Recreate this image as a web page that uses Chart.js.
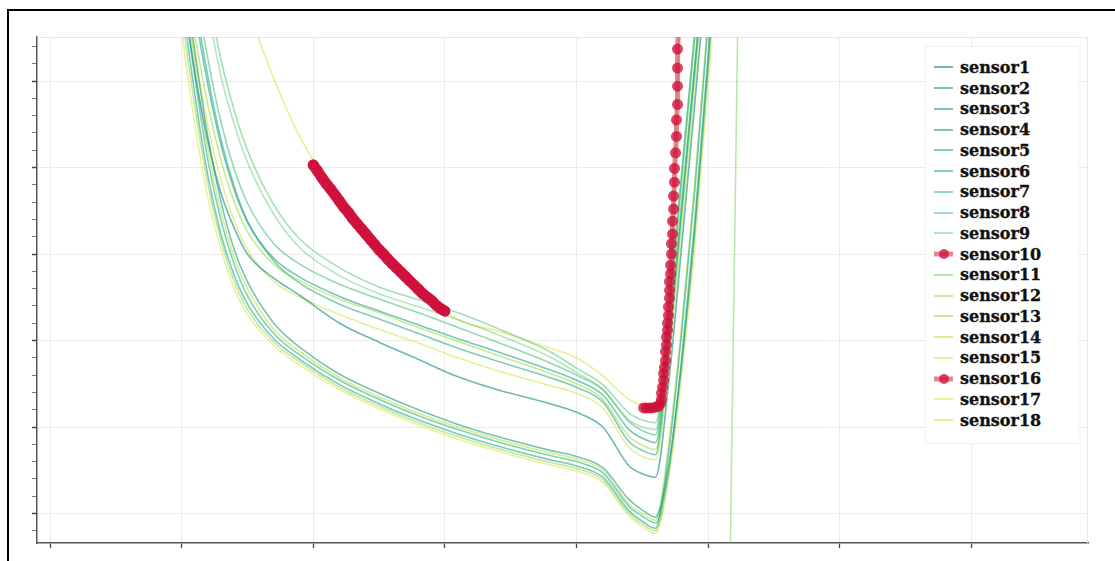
<!DOCTYPE html>
<html>
<head>
<meta charset="utf-8">
<script src="https://cdn.jsdelivr.net/npm/chart.js@4.4.0/dist/chart.umd.min.js"></script>
<style>
    html, body { margin: 0; padding: 0; background: #fff; overflow: hidden; }
    .chart-box { position: absolute; left: 0; top: 0; width: 1115px; height: 561px; }
    .frame {
        position: absolute; left: 7px; top: 9px; width: 1300px; height: 800px;
        border: 2px solid #000; box-sizing: border-box; pointer-events: none;
    }
    .legend {
        position: absolute; left: 925px; top: 46px; width: 154px; height: 398px;
        box-sizing: border-box; background: #fff; border: 1px solid #f1f1f1;
        padding-top: 10px;
        font-family: "DejaVu Serif", serif; font-weight: bold; font-size: 16px; color: #111;
        -webkit-text-stroke: 0.3px #111;
    }
    .legend__item { display: flex; align-items: center; height: 20.76px; }
    .legend__swatch { position: relative; width: 19px; height: 12px; margin-left: 8px; margin-right: 7px; }
    .legend__line { position: absolute; left: 0; right: 0; top: 50%; transform: translateY(-50%); }
    .legend__dot {
        position: absolute; left: 50%; top: 50%; width: 10px; height: 10px; border-radius: 50%;
        transform: translate(-50%, -50%);
    }
</style>
</head>
<body>
<div class="chart-box"><canvas id="chart"></canvas></div>
<div class="legend" id="legend"></div>
<div class="frame"></div>
<script>
/* shared x positions of the sensor curves */
const xCols = [9, 10, 11, 12, 13, 14, 15, 17, 19, 22, 25, 28, 31, 34, 38, 40, 42, 44, 45, 46, 47, 48, 49, 50, 51];

const sensor1  = [7.6, 6.2, 5.1, 4.3, 3.7, 3.3, 3.0, 2.72, 2.52, 2.2, 1.98, 1.78, 1.58, 1.43, 1.27, 1.17, 1.0, 0.55, 0.46, 0.42, 1.5, 3.1, 4.75, 6.5, 8.2];
const sensor2  = [7.9, 6.5, 5.35, 4.35, 3.6, 3.05, 2.68, 2.2, 1.92, 1.61, 1.39, 1.20, 1.03, 0.89, 0.73, 0.66, 0.53, 0.16, 0.04, -0.04, 0.55, 1.75, 3.3, 5.2, 7.3];
const sensor3  = [8.25, 6.86, 5.82, 4.95, 4.26, 3.74, 3.37, 2.95, 2.73, 2.51, 2.34, 2.18, 2.02, 1.87, 1.66, 1.54, 1.37, 0.97, 0.87, 0.82, 2.0, 3.6, 5.2, 6.9, 8.6];
const sensor4  = [7.5, 6.0, 4.85, 3.9, 3.22, 2.75, 2.42, 2.02, 1.78, 1.49, 1.27, 1.08, 0.92, 0.78, 0.62, 0.55, 0.42, 0.03, -0.09, -0.17, 0.7, 2.1, 3.75, 5.65, 7.9];
const sensor5  = [8.4, 7.0, 5.95, 5.05, 4.32, 3.78, 3.38, 2.92, 2.66, 2.42, 2.25, 2.08, 1.91, 1.76, 1.57, 1.46, 1.29, 0.83, 0.73, 0.68, 1.9, 3.5, 5.15, 6.85, 8.6];
const sensor6  = [7.7, 6.2, 5.05, 4.08, 3.38, 2.88, 2.52, 2.08, 1.83, 1.54, 1.32, 1.13, 0.97, 0.83, 0.67, 0.60, 0.47, 0.08, -0.03, -0.11, 0.5, 1.8, 3.4, 5.3, 7.5];
const sensor7  = [8.6, 7.2, 6.15, 5.25, 4.52, 3.98, 3.59, 3.12, 2.88, 2.65, 2.48, 2.32, 2.15, 1.98, 1.74, 1.60, 1.43, 1.06, 0.96, 0.91, 2.25, 3.9, 5.55, 7.3, 9.0];
const sensor8  = [9.98, 8.6, 7.21, 6.05, 5.24, 4.66, 4.20, 3.57, 3.17, 2.84, 2.62, 2.47, 2.32, 2.14, 1.87, 1.68, 1.49, 1.16, 1.08, 1.05, 2.35, 3.97, 5.59, 7.32, 9.06];
const sensor9  = [9.8, 8.4, 7.0, 5.85, 5.05, 4.5, 4.06, 3.46, 3.07, 2.75, 2.54, 2.39, 2.24, 2.07, 1.81, 1.63, 1.44, 1.08, 1.0, 0.97, 2.2, 3.85, 5.5, 7.2, 8.9];
const sensor12 = [7.3, 5.8, 4.7, 3.8, 3.15, 2.68, 2.36, 1.98, 1.75, 1.46, 1.24, 1.05, 0.89, 0.75, 0.59, 0.52, 0.39, 0.0, -0.12, -0.20, 0.45, 1.7, 3.25, 5.1, 7.2];
const sensor13 = [7.9, 6.55, 5.55, 4.72, 4.08, 3.6, 3.26, 2.88, 2.69, 2.48, 2.32, 2.15, 1.99, 1.83, 1.62, 1.50, 1.32, 0.89, 0.79, 0.74, 1.85, 3.45, 5.1, 6.8, 8.5];
const sensor14 = [8.0, 6.4, 5.2, 4.2, 3.48, 2.96, 2.6, 2.13, 1.87, 1.57, 1.35, 1.16, 1.00, 0.86, 0.70, 0.63, 0.50, 0.11, 0.0, -0.08, 0.8, 2.2, 3.85, 5.75, 8.0];
const sensor15 = [7.6, 6.3, 5.3, 4.48, 3.85, 3.38, 3.05, 2.68, 2.5, 2.3, 2.13, 1.97, 1.80, 1.65, 1.48, 1.39, 1.22, 0.76, 0.66, 0.62, 1.7, 3.3, 4.95, 6.7, 8.4];
const sensor17 = [7.1, 5.6, 4.5, 3.65, 3.05, 2.6, 2.3, 1.94, 1.71, 1.43, 1.21, 1.02, 0.86, 0.72, 0.56, 0.49, 0.36, -0.03, -0.15, -0.23, 0.4, 1.6, 3.1, 4.95, 7.0];
const sensor18 = [9.41, 8.71, 8.02, 7.38, 6.80, 6.28, 5.84, 5.03, 4.35, 3.62, 3.06, 2.60, 2.24, 2.11, 1.91, 1.80, 1.59, 1.32, 1.25, 1.22, 2.12, 6.4, 9.4, 11.7, 14.0];

/* sensors with their own x positions */
const sensor10X = [20, 20.33, 20.67, 21, 21.33, 21.67, 22, 22.33, 22.67, 23, 23.33, 23.67, 24, 24.33, 24.67, 25,
    25.33, 25.67, 26, 26.33, 26.67, 27, 27.33, 27.67, 28, 28.33, 28.67, 29, 29.33, 29.67, 30];
const sensor10Y = [4.03, 3.96, 3.88, 3.81, 3.75, 3.68, 3.61, 3.54, 3.48, 3.41, 3.35, 3.29, 3.23, 3.17, 3.11, 3.05,
    3.00, 2.94, 2.89, 2.84, 2.79, 2.74, 2.69, 2.64, 2.59, 2.54, 2.50, 2.46, 2.41, 2.37, 2.34];
const sensor11X = [51.68, 52.26];
const sensor11Y = [-0.5, 5.7];
const sensor16X = [45.10, 45.32, 45.55, 45.78, 46.01, 46.24, 46.39, 46.46, 46.46, 46.54, 46.62, 46.62, 46.69, 46.77,
    46.77, 46.84, 46.84, 46.92, 46.92, 46.99, 46.99, 47.07, 47.07, 47.07, 47.15, 47.15, 47.22, 47.22, 47.30, 47.30,
    47.38, 47.38, 47.45, 47.45, 47.53, 47.60, 47.60, 47.68, 47.68, 47.68, 47.68, 47.76];
const sensor16Y = [1.22, 1.22, 1.22, 1.22, 1.23, 1.24, 1.27, 1.32, 1.39, 1.46, 1.54, 1.62, 1.69, 1.77, 1.87, 1.95,
    2.04, 2.12, 2.20, 2.29, 2.39, 2.49, 2.58, 2.68, 2.77, 2.87, 3.00, 3.12, 3.23, 3.38, 3.52, 3.67, 3.83, 3.99,
    4.17, 4.36, 4.55, 4.73, 4.94, 5.15, 5.37, 5.61];

const sensorNames = ['sensor1', 'sensor2', 'sensor3', 'sensor4', 'sensor5', 'sensor6', 'sensor7', 'sensor8', 'sensor9',
    'sensor10', 'sensor11', 'sensor12', 'sensor13', 'sensor14', 'sensor15', 'sensor16', 'sensor17', 'sensor18'];
const lineColors = ['rgba(33,145,140,0.65)', 'rgba(31,153,138,0.6)', 'rgba(31,161,136,0.6)', 'rgba(34,167,133,0.6)',
    'rgba(40,174,128,0.6)', 'rgba(47,180,124,0.6)', 'rgba(59,187,117,0.55)', 'rgba(71,193,110,0.5)',
    'rgba(88,199,101,0.45)', 'rgba(208,16,58,0.5)', 'rgba(117,208,84,0.5)', 'rgba(134,213,73,0.5)',
    'rgba(155,217,60,0.55)', 'rgba(173,220,48,0.5)', 'rgba(194,223,35,0.45)', 'rgba(208,16,58,0.5)',
    'rgba(222,226,60,0.5)', 'rgba(215,230,70,0.6)'];

const xTickStep = 10;
const yTickStep = 0.2;

/* build datasets */
const shared = {
    sensor1, sensor2, sensor3, sensor4, sensor5, sensor6, sensor7, sensor8, sensor9,
    sensor12, sensor13, sensor14, sensor15, sensor17, sensor18
};
function pairs(xs, ys) {
    return xs.map((x, i) => ({x: x, y: ys[i]}));
}
const datasets = sensorNames.map((name, i) => {
    if (name == 'sensor10' || name == 'sensor16') {
        const dense = name == 'sensor10';
        const pts = dense ? pairs(sensor10X, sensor10Y) : pairs(sensor16X, sensor16Y);
        return {
            label: name, data: pts, order: -1,
            borderColor: dense ? 'rgba(205,16,56,0.92)' : lineColors[i],
            borderWidth: dense ? 11 : 5, borderCapStyle: 'round', tension: 0,
            pointRadius: 5.5, pointBorderWidth: 0,
            pointBackgroundColor: 'rgba(208,16,58,0.78)', highlight: true, swatch: lineColors[i]
        };
    }
    const pts = name == 'sensor11' ? pairs(sensor11X, sensor11Y) : pairs(xCols, shared[name]);
    return {
        label: name, data: pts,
        borderColor: lineColors[i], borderWidth: 1.6, swatch: lineColors[i],
        pointRadius: 0, cubicInterpolationMode: 'monotone'
    };
});

const isMajor = v => Math.abs(v - Math.round(v)) < 1e-6;

/* light frame on top and right side of the plot */
const plotFrame = {
    id: 'plotFrame',
    beforeDatasetsDraw(chart) {
        const {ctx, chartArea: a} = chart;
        ctx.save();
        ctx.strokeStyle = '#e8e8e8';
        ctx.lineWidth = 1;
        ctx.beginPath();
        ctx.moveTo(a.left, a.top + 0.5);
        ctx.lineTo(a.right - 0.5, a.top + 0.5);
        ctx.lineTo(a.right - 0.5, a.bottom);
        ctx.stroke();
        ctx.restore();
    }
};

const chart = new Chart(document.getElementById('chart'), {
    type: 'line',
    data: { datasets: datasets },
    plugins: [plotFrame],
    options: {
        responsive: true,
        maintainAspectRatio: false,
        animation: false,
        events: [],
        layout: { padding: { left: 27, top: 37, right: 27, bottom: 8 } },
        plugins: { legend: { display: false }, tooltip: { enabled: false } },
        scales: {
            x: {
                type: 'linear', min: -0.99, max: 78.87,
                afterFit: s => { s.height = 10; },
                ticks: { display: false, stepSize: xTickStep, includeBounds: false },
                grid: { color: '#ebebeb', lineWidth: 1, tickLength: 5, tickColor: '#444', tickWidth: 1.3 },
                border: { color: '#555', width: 1.5 }
            },
            y: {
                type: 'linear', min: -0.341, max: 5.509,
                afterFit: s => { s.width = 10; },
                ticks: { display: false, stepSize: yTickStep, includeBounds: false },
                grid: {
                    color: ctx => isMajor(ctx.tick.value) ? '#ebebeb' : 'rgba(0,0,0,0)',
                    lineWidth: 1, tickLength: 5,
                    tickColor: ctx => isMajor(ctx.tick.value) ? '#444' : '#777',
                    tickWidth: ctx => isMajor(ctx.tick.value) ? 1.5 : 1
                },
                border: { color: '#555', width: 1.5 }
            }
        }
    }
});

/* html legend */
const legend = document.getElementById('legend');
chart.data.datasets.forEach(ds => {
    const item = document.createElement('div');
    item.className = 'legend__item';
    const sw = document.createElement('span');
    sw.className = 'legend__swatch';
    const line = document.createElement('span');
    line.className = 'legend__line';
    line.style.background = ds.swatch;
    line.style.height = (ds.highlight ? 5 : 2) + 'px';
    sw.appendChild(line);
    if (ds.highlight) {
        const dot = document.createElement('span');
        dot.className = 'legend__dot';
        dot.style.background = ds.pointBackgroundColor;
        sw.appendChild(dot);
    }
    item.appendChild(sw);
    const txt = document.createElement('span');
    txt.textContent = ds.label;
    item.appendChild(txt);
    legend.appendChild(item);
});
</script>
</body>
</html>
